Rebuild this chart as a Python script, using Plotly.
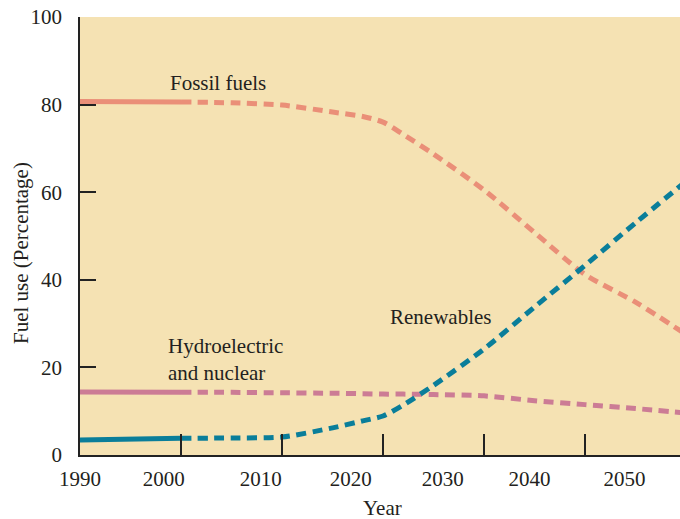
import plotly.graph_objects as go

# ---- data ----
years_hist = [1990, 2000]
fossil_hist = [80.7, 80.6]
hydro_hist = [14.4, 14.3]
renew_hist = [3.4, 3.8]

years_proj = [2000, 2005, 2010, 2015, 2018, 2020, 2022, 2025, 2030, 2035, 2040, 2045, 2050]
fossil_proj = [80.6, 80.4, 79.9, 78.3, 77.3, 76.0, 73.2, 68.7, 60.5, 50.8, 41.2, 34.9, 27.5]
hydro_proj = [14.3, 14.3, 14.2, 14.1, 14.0, 13.9, 13.9, 13.8, 13.5, 12.4, 11.5, 10.6, 9.6]
renew_proj = [3.8, 3.9, 4.1, 6.2, 7.8, 8.9, 11.4, 15.9, 24.2, 33.8, 43.3, 53.0, 62.5]

x_tick_marks = [2000, 2010, 2020, 2030, 2040]
x_tick_labels = ["1990", "2000", "2010", "2020", "2030", "2040", "2050"]
y_ticks = [0, 20, 40, 60, 80, 100]

# ---- layout-only placement of the (offset) year labels ----
x_label_pos = [1990, 1998.3, 2007.9, 2016.8, 2025.9, 2034.5, 2043.9]

C_FOSSIL = "#EA8F78"
C_HYDRO = "#CC7C95"
C_RENEW = "#0A7E9A"
TXT = "#231F20"
FONT = "Liberation Serif"
DASH = "10px,6.5px"
LW = 5
FS = 21

fig = go.Figure()
for yh, yp, c in [(fossil_hist, fossil_proj, C_FOSSIL),
                  (hydro_hist, hydro_proj, C_HYDRO),
                  (renew_hist, renew_proj, C_RENEW)]:
    fig.add_trace(go.Scatter(x=years_proj, y=yp, mode="lines",
                             line=dict(color=c, width=LW, dash=DASH, shape="spline", smoothing=0.7),
                             showlegend=False, hoverinfo="skip"))
    fig.add_trace(go.Scatter(x=years_hist, y=yh, mode="lines",
                             line=dict(color=c, width=LW),
                             showlegend=False, hoverinfo="skip"))

# dummy trace for label axis
fig.add_trace(go.Scatter(x=[None], y=[None], xaxis="x2", yaxis="y", showlegend=False, hoverinfo="skip"))

XR = [1990, 2049.4]
fig.update_layout(
    width=680, height=519,
    margin=dict(l=80, r=0, t=17, b=64),
    paper_bgcolor="white",
    plot_bgcolor="#F5E2B3",
    font=dict(family=FONT, size=FS, color=TXT),
    xaxis=dict(range=XR, showgrid=False, zeroline=False, showline=True,
               linecolor="#222222", linewidth=1.5,
               ticks="inside", ticklen=21, tickwidth=1.5, tickcolor="#222222",
               tickvals=x_tick_marks, showticklabels=False),
    xaxis2=dict(range=XR, overlaying="x", anchor="y", side="bottom",
                showgrid=False, zeroline=False, showline=False,
                ticks="", tickvals=x_label_pos, ticktext=x_tick_labels,
                ticklabelstandoff=9, ticklabeloverflow="allow",
                tickfont=dict(family=FONT, size=FS, color=TXT)),
    yaxis=dict(range=[0, 100], showgrid=False, zeroline=False, showline=True,
               linecolor="#222222", linewidth=1.5,
               ticks="inside", ticklen=16, tickwidth=1.5, tickcolor="#222222",
               tickvals=y_ticks, ticklabelstandoff=12, ticklabeloverflow="allow",
               tickfont=dict(family=FONT, size=FS, color=TXT)),
    annotations=[
        dict(x=1998.7, y=84.9, xref="x", yref="y", text="Fossil fuels",
             xanchor="left", yanchor="middle", showarrow=False),
        dict(x=1998.5, y=21.8, xref="x", yref="y", text="Hydroelectric<br>and nuclear",
             xanchor="left", yanchor="middle", align="left", showarrow=False),
        dict(x=2020.5, y=31.5, xref="x", yref="y", text="Renewables",
             xanchor="left", yanchor="middle", showarrow=False),
        dict(x=(382 - 80) / 600, y=(455 - 508) / 438, xref="paper", yref="paper", text="Year",
             xanchor="center", yanchor="middle", showarrow=False),
        dict(x=(21 - 80) / 600, y=(455 - 253) / 438, xref="paper", yref="paper",
             text="Fuel use (Percentage)", textangle=-90,
             xanchor="center", yanchor="middle", showarrow=False),
    ],
)

fig.write_html("out.html", config={"displayModeBar": False},
               post_script="document.body.style.margin='0';")
